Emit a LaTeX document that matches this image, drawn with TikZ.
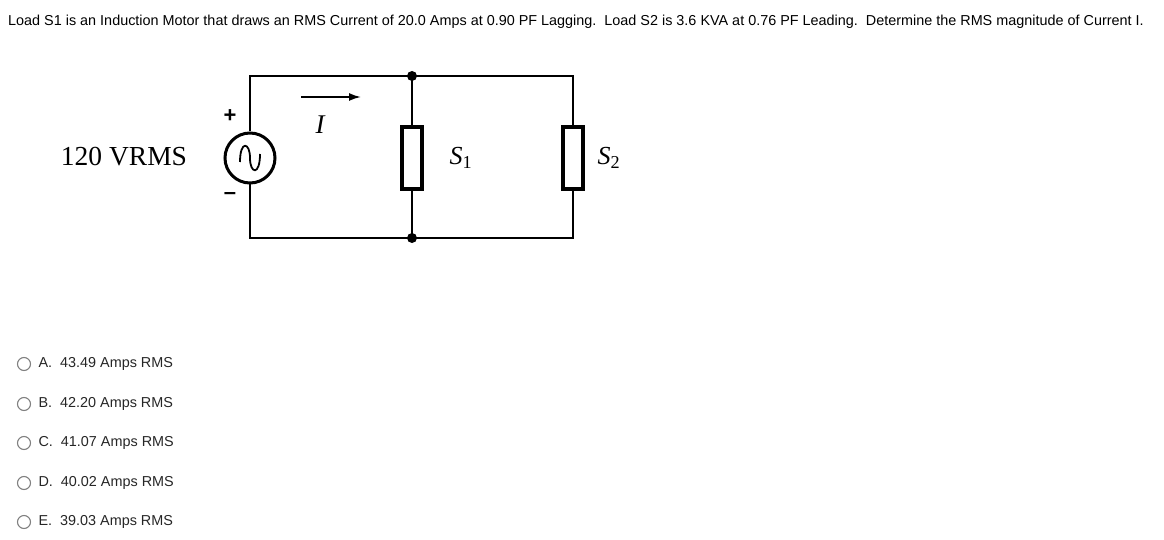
\documentclass[tikz,border=0pt]{standalone}
\usepackage{fontspec}
\usetikzlibrary{arrows.meta}
\setmainfont{Liberation Sans}
\newfontfamily\serifp{Liberation Serif}
\begin{document}
\begin{tikzpicture}[x=1pt,y=-1pt,
  wire/.style={line width=2pt},
  lbl/.style={font=\serifp\fontsize{26}{28}\selectfont},
  opt/.style={anchor=west,font=\fontsize{14.4}{16}\selectfont,text=black!85},
  radio/.style={circle,draw=black!50,line width=1.1pt,minimum size=13pt,inner sep=0pt}]
\useasboundingbox (0,0) rectangle (1164,540);
\node[anchor=west,font=\fontsize{14.4}{16}\selectfont,inner sep=0pt] (title) at (8,22) {Load S1 is an Induction Motor that draws an RMS Current of 20.0 Amps at 0.90 PF Lagging.\ \ Load S2 is 3.6 KVA at 0.76 PF Leading.\ \ Determine the RMS magnitude of Current I.};
\coordinate (tl) at (250,76); \coordinate (tm) at (412,76); \coordinate (tr) at (573,76);
\coordinate (bl) at (250,238); \coordinate (bm) at (412,238); \coordinate (br) at (573,238);
\node[circle,draw,line width=3pt,minimum size=50pt,inner sep=0pt] (src) at (250,158) {};
\node[draw,line width=4pt,minimum width=20pt,minimum height=62pt,inner sep=0pt] (s1) at (412,158) {};
\node[draw,line width=4pt,minimum width=20pt,minimum height=62pt,inner sep=0pt] (s2) at (573,158) {};
\draw[wire] (src.north) -- (tl) -- (tr) -- (s2.north);
\draw[wire] (src.south) -- (bl) -- (br) -- (s2.south);
\draw[wire] (tm) -- (s1.north); \draw[wire] (bm) -- (s1.south);
\fill (tm) circle (5pt); \fill (bm) circle (5pt);
\draw[line width=1.8pt] (240,162) .. controls (240,140) and (250,142) .. (250,158) .. controls (250,174) and (260,176) .. (260,154);
\coordinate (a1) at (301,97); \coordinate (a2) at (361,97);
\draw[line width=1.8pt,-{Latex[length=12pt,width=8pt]}] (a1) -- (a2);
\node[font=\serifp\itshape\fontsize{27}{28}\selectfont] (I) at (320,125) {I};
\node[font=\bfseries\fontsize{22}{24}\selectfont] (plus) at (230,116) {+};
\node[font=\bfseries\fontsize{22}{24}\selectfont] (minus) at (230,196) {\textendash};
\node[font=\serifp\fontsize{27.5}{29}\selectfont] (v) at (124,157) {120 VRMS};
\node[lbl,anchor=west] (l1) at (446,158) {\textit{S}\textsubscript{1}};
\node[lbl,anchor=west] (l2) at (594,158) {\textit{S}\textsubscript{2}};
\foreach \y/\t [count=\i] in {364/A.\ \ 43.49 Amps RMS,404/B.\ \ 42.20 Amps RMS,443/C.\ \ 41.07 Amps RMS,483/D.\ \ 40.02 Amps RMS,522/E.\ \ 39.03 Amps RMS}{
  \node[radio] (r\i) at (24,\y) {};
  \node[opt] (o\i) at (35,\y) {\t};
}
\end{tikzpicture}
\end{document}
